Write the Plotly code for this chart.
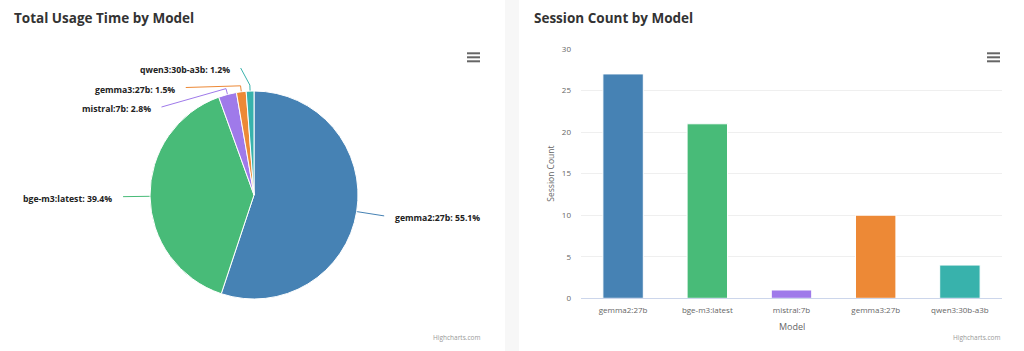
import math
import plotly.graph_objects as go

# ---------------- data ----------------
pie_models = ["gemma2:27b", "bge-m3:latest", "mistral:7b", "gemma3:27b", "qwen3:30b-a3b"]
pie_share = [55.1, 39.4, 2.8, 1.5, 1.2]

bar_models = ["gemma2:27b", "bge-m3:latest", "mistral:7b", "gemma3:27b", "qwen3:30b-a3b"]
session_counts = [27, 21, 1, 10, 4]

model_colors = ["#4682b4", "#48bb78", "#9f7aea", "#ed8936", "#38b2ac"]

# ---------------- layout constants (pixels) ----------------
W, H = 1024, 351
FONT = "Open Sans, Noto Sans, sans-serif"
cx, cy, r = 254, 195, 104          # pie centre / radius
R_LAB = 131                       # natural label radius (for label heights)
R_TXT = 134                       # radius used to place label text horizontally
PAD = 5                           # label padding
Y_OFF = 6                         # label reference offset
BREAK = 6                         # connector elbow distance outside the pie
LABEL_TOP = 68                    # highest allowed label line
LABEL_STEP = 19.5                 # min vertical spacing between labels

plot_l, plot_r, plot_t, plot_b = 581, 1002, 49, 298.3

fig = go.Figure()

# pie
fig.add_trace(go.Pie(
    labels=pie_models, values=pie_share, sort=False, direction="clockwise",
    rotation=0, marker=dict(colors=model_colors, line=dict(color="white", width=1)),
    textinfo="none", hoverinfo="label+percent", showlegend=False,
    domain=dict(x=[(cx - r) / W, (cx + r) / W], y=[1 - (cy + r) / H, 1 - (cy - r) / H]),
))

# bars
fig.add_trace(go.Bar(
    x=bar_models, y=session_counts, xaxis="x", yaxis="y",
    marker=dict(color=model_colors, line=dict(color="white", width=1)),
    showlegend=False, hovertemplate="%{x}: %{y}<extra></extra>",
))

# ---------------- pie data labels (computed from the values) ----------------
total = sum(pie_share)
cum = 0.0
labels = []
for name, v, col in zip(pie_models, pie_share, model_colors):
    th = math.radians(360.0 * (cum + v / 2) / total)
    cum += v
    labels.append(dict(name=name, v=v, col=col, th=th,
                       left=math.sin(th) < 0,
                       y=cy - R_LAB * math.cos(th)))

for side in (True, False):
    grp = sorted([l for l in labels if l["left"] == side], key=lambda l: l["y"])
    prev = None
    for l in grp:
        y = max(l["y"], LABEL_TOP)
        if prev is not None:
            y = max(y, prev + LABEL_STEP)
        l["y"] = y
        prev = y

annotations = []
for l in labels:
    sgn = -1 if l["left"] else 1
    dy = l["y"] - Y_OFF - cy
    xt = cx + sgn * (math.sqrt(max(R_TXT ** 2 - dy ** 2, 0)) + PAD)
    xc = xt - sgn * 8
    bx = cx + (r + BREAK) * math.sin(l["th"])
    by = cy - (r + BREAK) * math.cos(l["th"])
    ex = cx + r * math.sin(l["th"])
    ey = cy - r * math.cos(l["th"])
    fig.add_trace(go.Scatter(
        x=[xc, bx, ex], y=[l["y"], by, ey], xaxis="x2", yaxis="y2",
        mode="lines", line=dict(color=l["col"], width=1),
        hoverinfo="skip", showlegend=False,
    ))
    annotations.append(dict(
        x=xt + sgn * 1, y=l["y"] + 2, xref="x2", yref="y2",
        text=f"<b>{l['name']}: {l['v']:.1f}%</b>", showarrow=False,
        xanchor="right" if l["left"] else "left", yanchor="middle",
        font=dict(family=FONT, size=8.7, color="#222222"),
    ))

# titles
annotations += [
    dict(x=12, y=18, xref="x2", yref="y2", text="<b>Total Usage Time by Model</b>",
         showarrow=False, xanchor="left", yanchor="middle",
         font=dict(family=FONT, size=13.5, color="#333333")),
    dict(x=532, y=18, xref="x2", yref="y2", text="<b>Session Count by Model</b>",
         showarrow=False, xanchor="left", yanchor="middle",
         font=dict(family=FONT, size=13.5, color="#333333")),
    dict(x=551, y=(plot_t + plot_b) / 2, xref="x2", yref="y2", text="Session Count",
         showarrow=False, textangle=-90, xanchor="center", yanchor="middle",
         font=dict(family=FONT, size=8.5, color="#666666")),
    dict(x=(plot_l + plot_r) / 2, y=326, xref="x2", yref="y2", text="Model",
         showarrow=False, xanchor="center", yanchor="middle",
         font=dict(family=FONT, size=9, color="#666666")),
    dict(x=482, y=337, xref="x2", yref="y2", text="Highcharts.com",
         showarrow=False, xanchor="right", yanchor="middle",
         font=dict(family=FONT, size=6.5, color="#999999")),
    dict(x=1002, y=337, xref="x2", yref="y2", text="Highcharts.com",
         showarrow=False, xanchor="right", yanchor="middle",
         font=dict(family=FONT, size=6.5, color="#999999")),
]

# decorations: divider band and menu icons
shapes = [dict(type="rect", xref="x2", yref="y2", x0=505, x1=519, y0=0, y1=H,
               fillcolor="#f7f7f7", line=dict(width=0), layer="below")]
for x0 in (467, 987):
    for yy in (53.3, 57.3, 61.3):
        shapes.append(dict(type="line", xref="x2", yref="y2", x0=x0, x1=x0 + 13,
                           y0=yy, y1=yy, line=dict(color="#666666", width=2)))

fig.update_layout(
    width=W, height=H, margin=dict(l=0, r=0, t=0, b=0, autoexpand=False),
    paper_bgcolor="white", plot_bgcolor="rgba(0,0,0,0)",
    bargap=0.52,
    xaxis=dict(domain=[plot_l / W, plot_r / W], anchor="y", showline=True,
               linecolor="#ccd6eb", linewidth=1, showgrid=False, ticks="",
               automargin=False, ticklabelstandoff=4,
               tickfont=dict(family=FONT, size=8, color="#666666"),
               fixedrange=True),
    yaxis=dict(domain=[1 - plot_b / H, 1 - plot_t / H], anchor="x", range=[0, 30],
               dtick=5, showgrid=True, gridcolor="#efefef", zeroline=False,
               showline=False, ticks="", ticklabelstandoff=9, automargin=False,
               tickfont=dict(family=FONT, size=8, color="#666666"),
               fixedrange=True),
    xaxis2=dict(domain=[0, 1], range=[0, W], anchor="y2", visible=False,
                fixedrange=True, automargin=False),
    yaxis2=dict(domain=[0, 1], range=[H, 0], anchor="x2", visible=False,
                fixedrange=True, automargin=False),
    annotations=annotations, shapes=shapes,
)

fig.write_html("out.html")
